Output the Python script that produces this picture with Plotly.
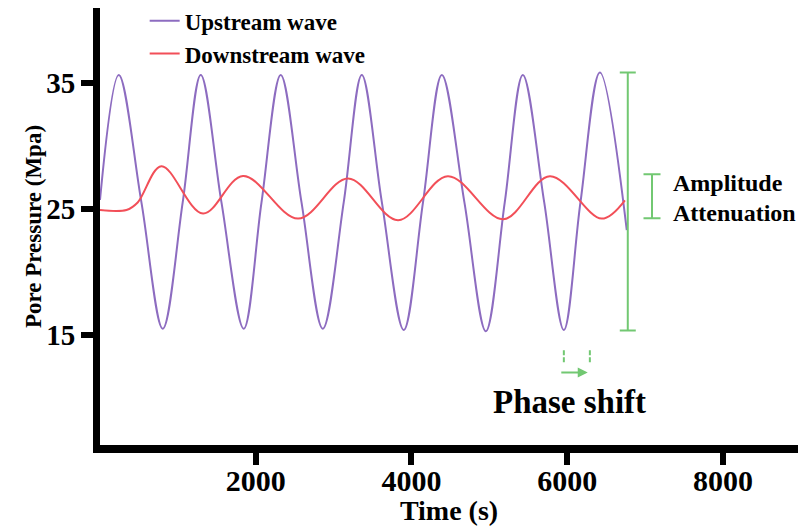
import plotly.graph_objects as go

# ---------------- data ----------------
up_time = [0, 241, 532, 806, 1062, 1294, 1560, 1846, 2074, 2321, 2588, 2861,
           3130, 3362, 3620, 3901, 4148, 4390, 4680, 4955, 5198, 5430, 5705,
           5957, 6170, 6420, 6765]
up_pressure = [25.7, 35.6, 25.5, 15.5, 25.5, 35.6, 25.5, 15.5, 25.5, 35.6, 25.5, 15.5,
               25.5, 35.6, 25.5, 15.4, 25.5, 35.6, 25.5, 15.3, 25.5, 35.6, 25.5,
               15.4, 25.5, 35.8, 23.3]

down_time = [0, 340, 484, 789, 1323, 1837, 2544, 3186, 3829, 4467, 5178, 5778,
             6442, 6741]
down_pressure = [24.9, 24.9, 25.5, 28.37, 24.62, 27.6, 24.22, 27.4, 24.09, 27.58,
                 24.17, 27.58, 24.22, 25.67]

# amplitude markers: [time, low, high]
full_amp = [6778, 15.35, 35.8]
atten_amp = [7089, 24.25, 27.73]
# phase shift markers (times of the two troughs) and vertical extent
phase_times = [5957, 6291]
phase_span = [12.85, 13.9]
phase_arrow = [5905, 6264, 12.03]

x_ticks = [2000, 4000, 6000, 8000]
y_ticks = [15, 25, 35]

series_names = ["Upstream wave", "Downstream wave"]

# ---------------- styles ----------------
PURPLE = "#8d6cc0"
RED = "#f24f58"
GREEN = "#72c872"
FONT = "Liberation Serif"

fig = go.Figure()

fig.add_trace(go.Scatter(x=up_time, y=up_pressure, mode="lines", name=series_names[0],
                         line=dict(color=PURPLE, width=2, shape="spline", smoothing=1.0)))
fig.add_trace(go.Scatter(x=down_time, y=down_pressure, mode="lines", name=series_names[1],
                         line=dict(color=RED, width=2, shape="spline", smoothing=1.0)))

# amplitude bars
for bar, cap in ((full_amp, 8), (atten_amp, 8.5)):
    mid = (bar[1] + bar[2]) / 2
    fig.add_trace(go.Scatter(x=[bar[0]], y=[mid], mode="markers", showlegend=False,
                             marker=dict(size=1, opacity=0),
                             error_y=dict(type="data", array=[bar[2] - mid], visible=True,
                                          color=GREEN, thickness=2, width=cap),
                             hoverinfo="skip"))

# phase-shift dashed ticks
for t in phase_times:
    fig.add_trace(go.Scatter(x=[t, t], y=phase_span, mode="lines", showlegend=False,
                             line=dict(color=GREEN, width=2, dash="5px,2px"),
                             hoverinfo="skip"))

fig.add_annotation(x=phase_arrow[1], y=phase_arrow[2], ax=phase_arrow[0], ay=phase_arrow[2],
                   xref="x", yref="y", axref="x", ayref="y", text="", showarrow=True,
                   arrowhead=2, arrowsize=1, arrowwidth=2, arrowcolor=GREEN)

fig.add_annotation(x=6034, y=9.72, xref="x", yref="y", text="<b>Phase shift</b>",
                   showarrow=False, font=dict(family=FONT, size=33, color="black"))
fig.add_annotation(x=7330, y=27.02, xref="x", yref="y", text="<b>Amplitude</b>",
                   showarrow=False, xanchor="left",
                   font=dict(family=FONT, size=24, color="black"))
fig.add_annotation(x=7330, y=24.64, xref="x", yref="y", text="<b>Attenuation</b>",
                   showarrow=False, xanchor="left",
                   font=dict(family=FONT, size=24, color="black"))

fig.update_layout(
    width=798, height=526,
    margin=dict(l=100, r=0, t=8, b=81, autoexpand=False),
    paper_bgcolor="white", plot_bgcolor="white",
    showlegend=True,
    legend=dict(x=0.064, y=1.02, xanchor="left", yanchor="top",
                bgcolor="rgba(0,0,0,0)", tracegroupgap=0,
                font=dict(family=FONT, size=23, color="black", weight="bold")),
    xaxis=dict(range=[0, 8964], tickvals=x_ticks, ticktext=[str(v) for v in x_ticks],
               automargin=False, ticklabelstandoff=-10,
               showline=True, linecolor="black", linewidth=8,
               ticks="outside", ticklen=12, tickwidth=6, tickcolor="black",
               showgrid=False, zeroline=False,
               tickfont=dict(family=FONT, size=30, color="black", weight="bold"),
               title=dict(text="<b>Time (s)</b>", standoff=4,
                          font=dict(family=FONT, size=28, color="black"))),
    yaxis=dict(range=[6.29, 40.9], tickvals=y_ticks, ticktext=[str(v) for v in y_ticks],
               automargin=False,
               showline=True, linecolor="black", linewidth=7,
               ticks="outside", ticklen=12, tickwidth=6, tickcolor="black",
               showgrid=False, zeroline=False,
               tickfont=dict(family=FONT, size=29, color="black", weight="bold"),
               title=dict(text="<b>Pore Pressure (Mpa)</b>", standoff=0,
                          font=dict(family=FONT, size=23, color="black"))),
)

fig.write_html("out.html")
